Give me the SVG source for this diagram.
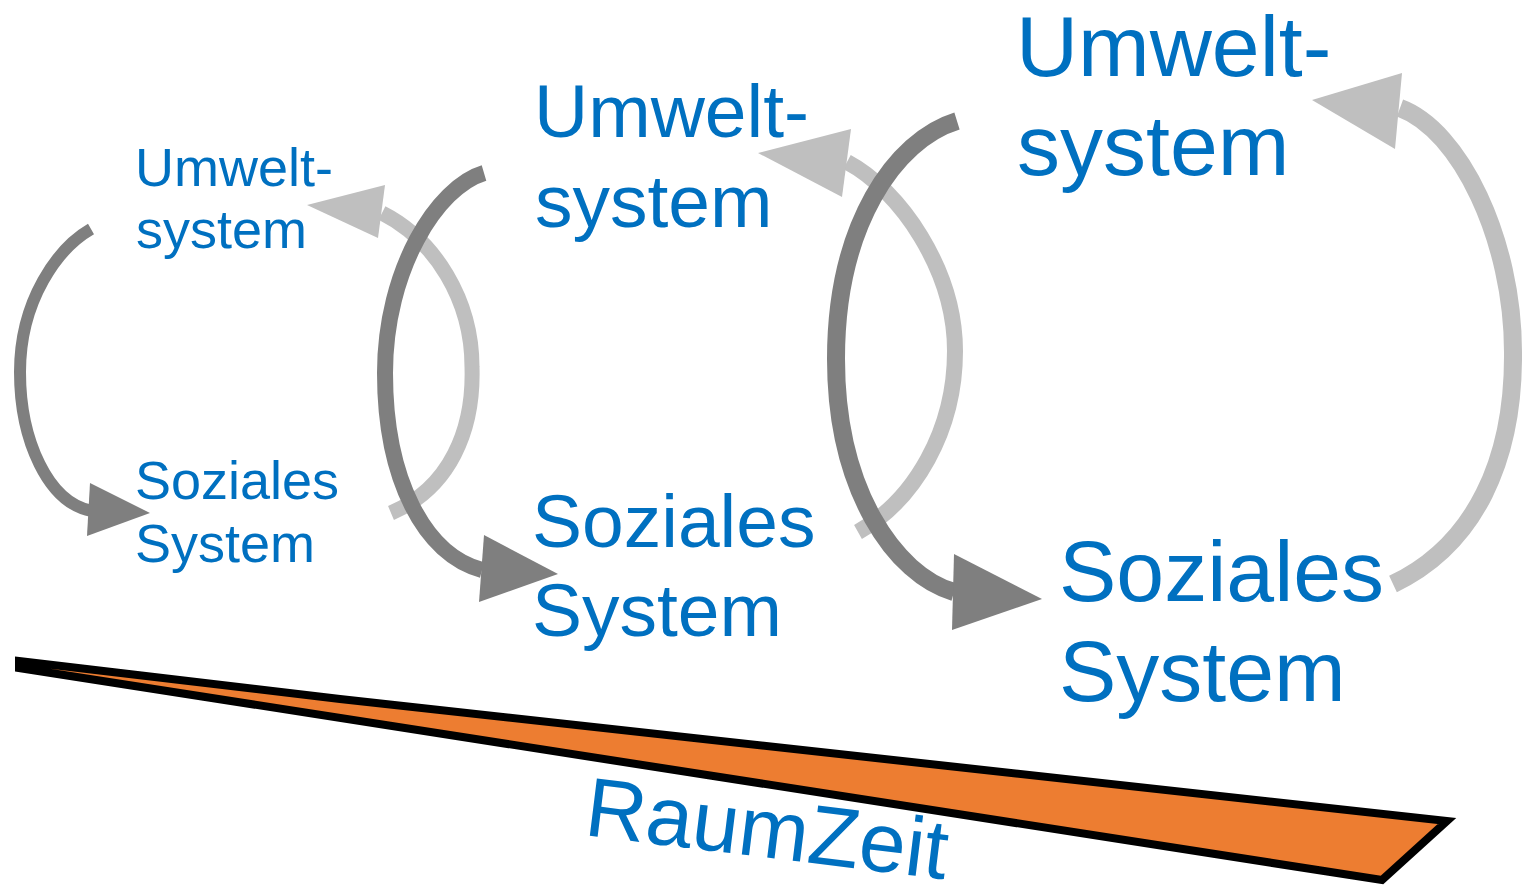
<svg xmlns="http://www.w3.org/2000/svg" width="1522" height="885" viewBox="0 0 1522 885">
  <style>
    .lbl { font-family: "Liberation Sans", Arial, sans-serif; fill: #0070C0; }
    .dark { fill: none; stroke: #7F7F7F; stroke-linejoin: round; stroke-linecap: butt; }
    .light { fill: none; stroke: #BFBFBF; stroke-linejoin: round; stroke-linecap: butt; }
    .dark-head { fill: #7F7F7F; }
    .light-head { fill: #BFBFBF; }
  </style>
  <rect width="1522" height="885" fill="#FFFFFF"/>

  <!-- RaumZeit wedge -->
  <g id="raumzeit">
    <polygon points="19,661 340,699 1447,821 1382,880 19,668" fill="#ED7D31" stroke="#000000" stroke-width="8" stroke-linejoin="miter" stroke-miterlimit="4"/>
    <text class="lbl" x="583" y="835" font-size="84" transform="rotate(7 583 835)">RaumZeit</text>
  </g>

  <!-- feedback loops: each arc is two cubic halves meeting at its outermost point -->
  <g id="connectors">
    <!-- light arrows: social system back to environment -->
    <path class="light" stroke-width="15" d="M391,513 C450,488 474,430 472,367 C472,300 435,240 382,213"/>
    <polygon class="light-head" points="385,185 307,205 378,238"/>

    <path class="light" stroke-width="16" d="M858,532 C915,500 955,430 955,351 C955,270 900,190 847,162"/>
    <polygon class="light-head" points="851,129 758,153 842,197"/>

    <path class="light" stroke-width="18" d="M1393,584 C1475,545 1514,460 1513,352 C1513,240 1460,130 1400,108"/>
    <polygon class="light-head" points="1402,73 1312,100 1395,149"/>

    <!-- dark arrows: environment to social system -->
    <path class="dark" stroke-width="12" d="M91,229 C58,248 20,300 20,372 C20,440 48,503 92,511"/>
    <polygon class="dark-head" points="90,483 150,513 87,536"/>

    <path class="dark" stroke-width="16" d="M484,173 C437,187 385,270 385,373 C385,480 425,555 482,570"/>
    <polygon class="dark-head" points="484,535 558,574 479,602"/>

    <path class="dark" stroke-width="18" d="M957,121 C895,140 836,225 836,359 C836,490 895,575 954,592"/>
    <polygon class="dark-head" points="954,554 1042,599 952,630"/>
  </g>

  <!-- stage 1 -->
  <g id="umwelt-1">
    <text class="lbl" font-size="54"><tspan x="135" y="186">Umwelt-</tspan><tspan x="136" y="248">system</tspan></text>
  </g>
  <g id="sozial-1">
    <text class="lbl" font-size="54"><tspan x="135" y="499">Soziales</tspan><tspan x="135" y="562">System</tspan></text>
  </g>

  <!-- stage 2 -->
  <g id="umwelt-2">
    <text class="lbl" font-size="75"><tspan x="534" y="137">Umwelt-</tspan><tspan x="535" y="227">system</tspan></text>
  </g>
  <g id="sozial-2">
    <text class="lbl" font-size="75"><tspan x="532" y="547">Soziales</tspan><tspan x="532" y="636">System</tspan></text>
  </g>

  <!-- stage 3 -->
  <g id="umwelt-3">
    <text class="lbl" font-size="86"><tspan x="1016" y="76">Umwelt-</tspan><tspan x="1017" y="175">system</tspan></text>
  </g>
  <g id="sozial-3">
    <text class="lbl" font-size="86"><tspan x="1059" y="601">Soziales</tspan><tspan x="1059" y="701">System</tspan></text>
  </g>
</svg>
